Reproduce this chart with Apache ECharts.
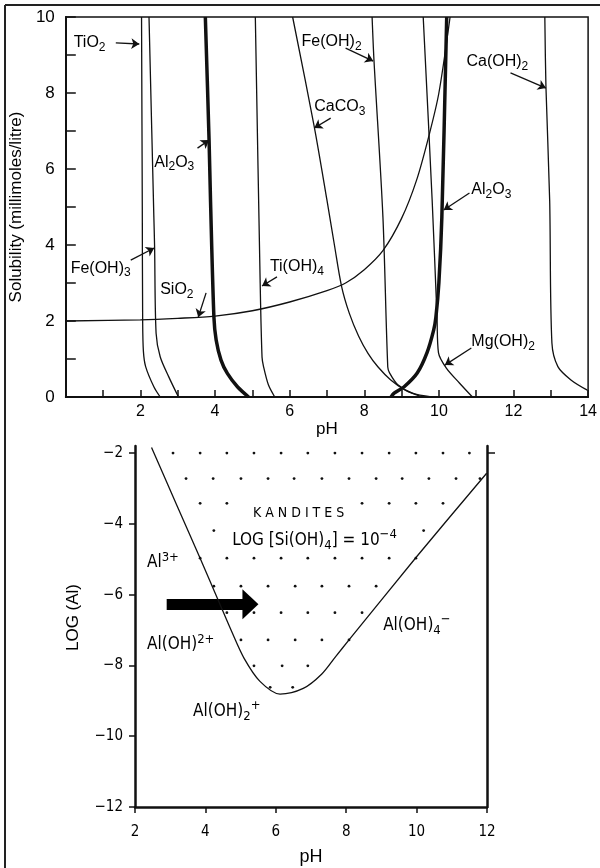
<!DOCTYPE html>
<html>
<head>
<meta charset="utf-8">
<script src="https://cdn.jsdelivr.net/npm/echarts@6/dist/echarts.min.js"></script>
<style>
  html, body { margin: 0; padding: 0; background: #fff; }
  #chart { width: 600px; height: 868px; }
</style>
</head>
<body>
<div id="chart"></div>
<script>
// ---- top panel: solubility (millimoles/litre) against pH, points are [pH, solubility]
const tio2 = [[2.03, 10], [2.05, 5], [2.06, 2], [2.08, 1.2], [2.14, 0.8], [2.36, 0.27], [2.53, 0]];
const feOH3 = [[2.23, 10], [2.36, 4.74], [2.38, 3.96], [2.42, 1.68], [2.53, 1.06], [2.76, 0.53], [3.02, 0]];
const al2o3Acid = [[3.74, 10], [3.84, 6.76], [3.88, 5.13], [3.97, 2.1], [4.03, 1.5], [4.16, 0.97], [4.33, 0.62], [4.6, 0.27], [4.9, 0]];
const tiOH4 = [[5.08, 10], [5.21, 3.0], [5.26, 1.05], [5.3, 0.8], [5.43, 0.32], [5.6, 0]];
const sio2 = [[0, 2.0], [2, 2.03], [3, 2.07], [4, 2.13], [5, 2.27], [6, 2.5], [7, 2.8], [7.5, 3.0], [8, 3.35], [8.5, 3.85], [9, 4.7], [9.4, 5.7], [9.74, 6.9], [10.0, 8.0], [10.3, 10]];
const caco3 = [[6.08, 10], [6.66, 7.11], [7.0, 5.18], [7.2, 4.0], [7.39, 2.92], [7.6, 2.2], [7.85, 1.6], [8.1, 1.15], [8.37, 0.79], [8.71, 0.45], [9.1, 0.18], [9.55, 0]];
const feOH2 = [[8.21, 10], [8.26, 8.87], [8.5, 4.74], [8.63, 0.79], [8.68, 0.63], [8.9, 0.32], [9.29, 0.1], [9.8, 0]];
const mgOH2 = [[9.58, 10], [9.82, 5.18], [9.95, 2.1], [9.99, 1.16], [10.2, 0.76], [10.55, 0.37], [10.9, 0]];
const al2o3Base = [[10.21, 10], [10.08, 4.74], [10.0, 3.0], [9.92, 2.1], [9.86, 1.76], [9.68, 1.16], [9.42, 0.63], [9.07, 0.27], [8.8, 0.1], [8.72, 0]];
const caOH2 = [[12.84, 10], [12.87, 8.16], [12.97, 5.18], [13.03, 1.42], [13.19, 0.8], [13.54, 0.45], [13.98, 0.18]];

const topXLabels = [2, 4, 6, 8, 10, 12, 14];
const topYLabels = [0, 2, 4, 6, 8, 10];

// label text, label anchor [pH, sol], arrow start, arrow end
const topNotes = [
  ['{n|TiO}{b|2}', [0.21, 9.32], [1.34, 9.32], [1.97, 9.29]],
  ['{n|Al}{b|2}{n|O}{b|3}', [2.37, 6.18], [3.53, 6.55], [3.84, 6.76]],
  ['{n|Fe(OH)}{b|3}', [0.13, 3.39], [1.74, 3.6], [2.37, 3.92]],
  ['{n|SiO}{b|2}', [2.53, 2.82], [3.76, 2.74], [3.55, 2.1]],
  ['{n|Ti(OH)}{b|4}', [5.47, 3.42], [5.66, 3.16], [5.26, 2.92]],
  ['{n|Fe(OH)}{b|2}', [6.32, 9.34], [7.5, 9.18], [8.24, 8.84]],
  ['{n|CaCO}{b|3}', [6.66, 7.63], [7.1, 7.34], [6.66, 7.08]],
  ['{n|Ca(OH)}{b|2}', [10.74, 8.82], [11.92, 8.53], [12.87, 8.13]],
  ['{n|Al}{b|2}{n|O}{b|3}', [10.87, 5.45], [10.82, 5.37], [10.13, 4.92]],
  ['{n|Mg(OH)}{b|2}', [10.87, 1.45], [10.87, 1.29], [10.16, 0.84]]
];

// ---- bottom panel: LOG(Al) against pH
const kanditeEdge = [[2.47, -1.84], [3.2, -3.5], [3.85, -4.97], [4.37, -6.17], [4.75, -7.05], [5.1, -7.8], [5.55, -8.45], [6.12, -8.81], [6.78, -8.65], [7.3, -8.25], [7.7, -7.75], [8.08, -7.28], [10.0, -4.93], [11.99, -2.57]];
const dotRowLog = [-2.0, -2.72, -3.42, -4.19, -4.97, -5.76, -6.51, -7.28, -8.01, -8.62];
const dotRowPH = [
  [3.08, 3.85, 4.61, 5.38, 6.15, 6.91, 7.68, 8.45, 9.22, 9.98, 10.75, 11.5],
  [3.45, 4.22, 5.01, 5.78, 6.52, 7.31, 8.08, 8.85, 9.59, 10.35, 11.12, 11.8],
  [3.85, 4.61, 8.45, 9.22, 9.98, 10.75],
  [4.24, 10.2],
  [3.85, 4.61, 5.38, 6.15, 6.91, 7.68, 8.45, 9.22, 9.98],
  [4.24, 5.01, 5.78, 6.55, 7.31, 8.08, 8.85],
  [4.61, 5.38, 6.15, 6.91, 7.68, 8.45],
  [5.01, 5.78, 6.55, 7.31, 8.08],
  [5.38, 6.18, 6.91],
  [5.84, 6.48]
];
const bottomXLabels = [2, 4, 6, 8, 10, 12];
const bottomYLabels = [-12, -10, -8, -6, -4, -2];
const bottomNotes = [
  ['{k|K A N D I T E S}', [5.35, -3.69]],
  ['{m|LOG [Si(OH)}{mb|4}{m|] = 10}{mp|−4}', [4.76, -4.46]],
  ['{m|Al}{mp|3+}', [2.34, -5.1]],
  ['{m|Al(OH)}{mp|2+}', [2.34, -7.42]],
  ['{m|Al(OH)}{mb|2}{mp|+}', [3.65, -9.3]],
  ['{m|Al(OH)}{mb|4}{mp|−}', [9.05, -6.86]]
];
const arrowBody = [[2.9, -6.27], [5.1, -6.27]];
const arrowHead = [5.28, -6.27];

const ink = '#111';
const sans = "'Liberation Sans', Arial, sans-serif";
const narrow = "'Liberation Sans Narrow', 'DejaVu Sans Condensed', 'Liberation Sans', sans-serif";

const dots = [];
dotRowLog.forEach((lg, i) => dotRowPH[i].forEach(ph => dots.push([ph, lg])));

const chart = echarts.init(document.getElementById('chart'));

function curve(data, width) {
  return {
    type: 'line', xAxisIndex: 0, yAxisIndex: 0, data: data,
    showSymbol: false, smooth: 0.3, silent: true,
    lineStyle: { color: ink, width: width || 1.3 }
  };
}

const richTop = {
  n: { fontSize: 16, lineHeight: 22, fontFamily: sans, color: '#000' },
  b: { fontSize: 12, lineHeight: 12, fontFamily: sans, color: '#000', verticalAlign: 'bottom' }
};
const richBottom = {
  k: { fontSize: 14, lineHeight: 20, fontFamily: narrow, color: '#000' },
  m: { fontSize: 17, lineHeight: 24, fontFamily: narrow, color: '#000' },
  mb: { fontSize: 13, lineHeight: 13, fontFamily: narrow, color: '#000', verticalAlign: 'bottom' },
  mp: { fontSize: 13, lineHeight: 13, fontFamily: narrow, color: '#000', verticalAlign: 'top' }
};

const option = {
  backgroundColor: '#fff',
  animation: false,
  graphic: [
    { type: 'line', shape: { x1: 5, y1: 5, x2: 600, y2: 5 }, style: { stroke: '#222', lineWidth: 2 } },
    { type: 'line', shape: { x1: 5, y1: 5, x2: 5, y2: 868 }, style: { stroke: '#222', lineWidth: 2 } }
  ],
  grid: [
    { left: 62, top: 17, width: 531, height: 380, show: true, borderColor: ink, borderWidth: 1.5, backgroundColor: 'transparent' },
    { left: 135, top: 446, width: 352, height: 361 }
  ],
  xAxis: [
    {
      gridIndex: 0, type: 'value', min: 0, max: 14, interval: 1,
      name: 'pH', nameLocation: 'middle', nameGap: 22,
      nameTextStyle: { fontSize: 17, fontFamily: sans, color: '#000' },
      axisLine: { lineStyle: { color: ink, width: 2 } },
      axisTick: { inside: true, length: 7, lineStyle: { color: ink, width: 1.5 } },
      axisLabel: { customValues: topXLabels, margin: 7, fontSize: 16, fontFamily: sans, color: '#000' },
      splitLine: { show: false }
    },
    {
      gridIndex: 1, type: 'value', min: 2, max: 12, interval: 2,
      name: 'pH', nameLocation: 'middle', nameGap: 41,
      nameTextStyle: { fontSize: 18, fontFamily: sans, color: '#000' },
      axisLine: { lineStyle: { color: ink, width: 2.5 } },
      axisTick: { inside: false, length: 6, lineStyle: { color: ink, width: 1.5 } },
      axisLabel: { customValues: bottomXLabels, margin: 18, fontSize: 15, fontFamily: narrow, color: '#000' },
      splitLine: { show: false }
    }
  ],
  yAxis: [
    {
      gridIndex: 0, type: 'value', min: 0, max: 10, interval: 1,
      name: 'Solubility (millimoles/litre)', nameLocation: 'middle', nameGap: 31,
      nameTextStyle: { fontSize: 17, fontFamily: sans, color: '#000' },
      axisLine: { lineStyle: { color: ink, width: 2 } },
      axisTick: { inside: true, length: 10, lineStyle: { color: ink, width: 1.5 } },
      axisLabel: { customValues: topYLabels, margin: 11, fontSize: 17, fontFamily: sans, color: '#000' },
      splitLine: { show: false }
    },
    {
      gridIndex: 1, type: 'value', min: -12, max: -1.8, interval: 2,
      name: 'LOG (Al)', nameLocation: 'middle', nameGap: 53,
      nameTextStyle: { fontSize: 17, fontFamily: sans, color: '#000', padding: [0, 0, 0, 18] },
      axisLine: { lineStyle: { color: ink, width: 2.5 } },
      axisTick: { customValues: bottomYLabels, inside: false, length: 6, lineStyle: { color: ink, width: 1.5 } },
      axisLabel: {
        customValues: bottomYLabels, margin: 12, fontSize: 15, fontFamily: narrow, color: '#000',
        formatter: v => String(v).replace('-', '−')
      },
      splitLine: { show: false }
    },
    {
      gridIndex: 1, type: 'value', min: -12, max: -1.8, position: 'right',
      axisLine: { show: true, lineStyle: { color: ink, width: 2.5 } },
      axisTick: { customValues: [-2], inside: false, length: 8, lineStyle: { color: ink, width: 1.5 } },
      axisLabel: { show: false },
      splitLine: { show: false }
    }
  ],
  series: [
    curve(tio2), curve(feOH3), curve(al2o3Acid, 3.5), curve(tiOH4), curve(sio2),
    curve(caco3), curve(feOH2), curve(mgOH2), curve(al2o3Base, 3.5), curve(caOH2),
    {
      type: 'lines', coordinateSystem: 'cartesian2d', xAxisIndex: 0, yAxisIndex: 0,
      symbol: ['none', 'arrow'], symbolSize: 8, silent: true,
      lineStyle: { color: ink, width: 1.3, opacity: 1 },
      data: topNotes.map(n => ({ coords: [n[2], n[3]] }))
    },
    {
      type: 'scatter', xAxisIndex: 0, yAxisIndex: 0, symbolSize: 0, silent: true,
      itemStyle: { opacity: 1 },
      data: topNotes.map(n => ({ value: n[1], label: { formatter: n[0] } })),
      label: { show: true, position: 'right', distance: 0, color: '#000', rich: richTop }
    },
    {
      type: 'line', xAxisIndex: 1, yAxisIndex: 1, data: kanditeEdge,
      showSymbol: false, smooth: 0.3, silent: true,
      lineStyle: { color: ink, width: 1.3 }
    },
    {
      type: 'scatter', xAxisIndex: 1, yAxisIndex: 1, data: dots,
      symbolSize: 2.8, silent: true, itemStyle: { color: ink, opacity: 1 }
    },
    {
      type: 'lines', coordinateSystem: 'cartesian2d', xAxisIndex: 1, yAxisIndex: 1,
      symbol: 'none', silent: true,
      lineStyle: { color: '#000', width: 11, opacity: 1 },
      data: [{ coords: arrowBody }]
    },
    {
      type: 'scatter', xAxisIndex: 1, yAxisIndex: 1, silent: true,
      symbol: 'triangle', symbolSize: [30, 16], symbolRotate: -90,
      itemStyle: { color: '#000', opacity: 1 },
      data: [arrowHead]
    },
    {
      type: 'scatter', xAxisIndex: 1, yAxisIndex: 1, symbolSize: 0, silent: true,
      itemStyle: { opacity: 1 },
      data: bottomNotes.map(n => ({ value: n[1], label: { formatter: n[0] } })),
      label: { show: true, position: 'right', distance: 0, color: '#000', rich: richBottom }
    }
  ]
};

chart.setOption(option);
</script>
</body>
</html>
